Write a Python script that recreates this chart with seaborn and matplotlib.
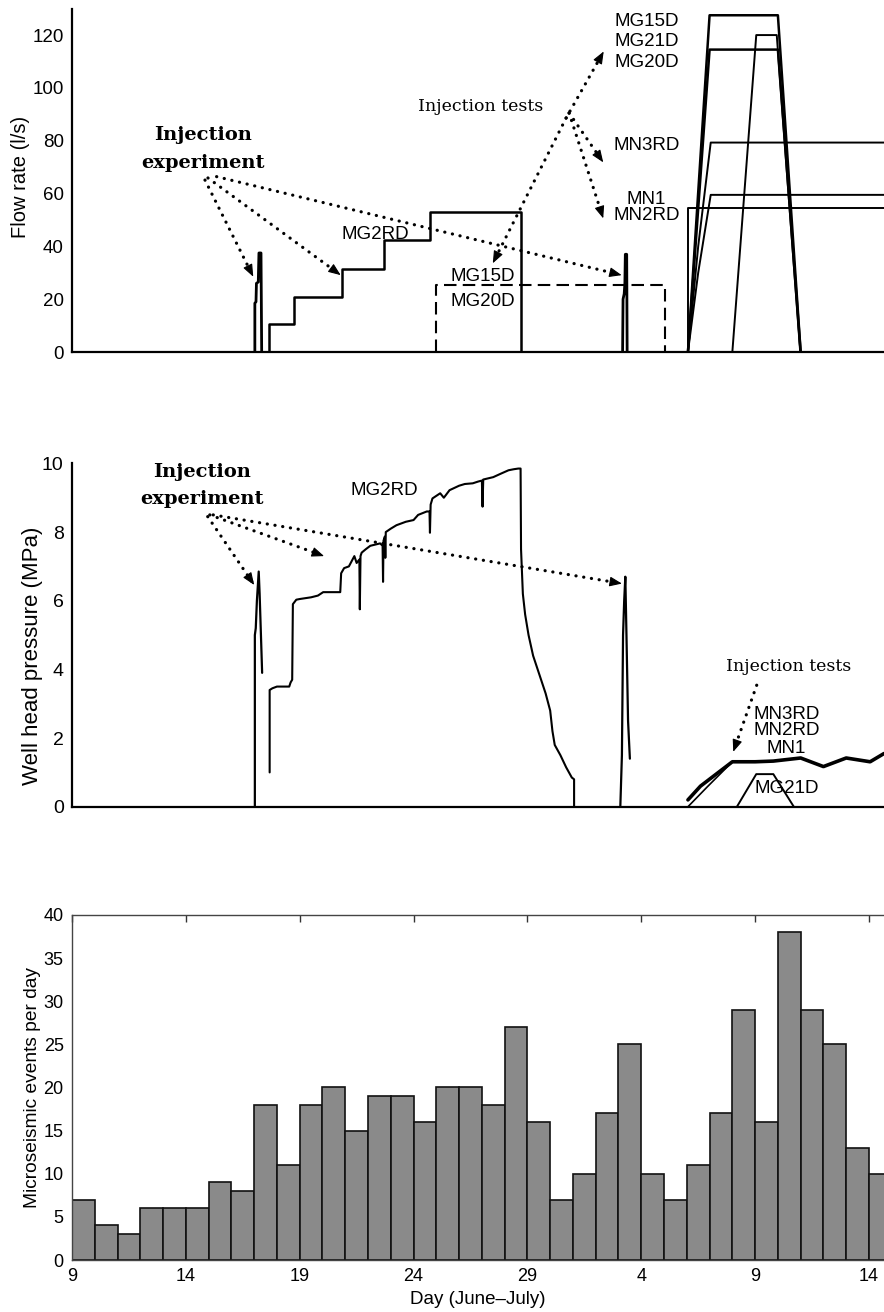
import numpy as np
import pandas as pd
import matplotlib
matplotlib.use("Agg")
import matplotlib.pyplot as plt
import seaborn as sns

# ---------------- data (day index: 0 = 9 June) ----------------
tick_days = [0, 5, 10, 15, 20, 25, 30, 35]
tick_labels = ["9", "14", "19", "24", "29", "4", "9", "14"]

# Flow rate (l/s)
mg2rd_spike1_day = [8.03, 8.03, 8.08, 8.10, 8.18, 8.21, 8.30, 8.33]
mg2rd_spike1_flow = [0, 18.5, 19, 26, 26.5, 37.5, 37.5, 0]
mg2rd_steps_day = [8.67, 8.67, 9.75, 9.75, 11.86, 11.86, 13.72, 13.72, 15.72, 15.72, 19.72, 19.72]
mg2rd_steps_flow = [0, 10.5, 10.5, 21, 21, 31.5, 31.5, 42.5, 42.5, 53, 53, 0]
mg2rd_spike2_day = [24.18, 24.20, 24.25, 24.28, 24.30, 24.36, 24.38]
mg2rd_spike2_flow = [0, 20, 22, 26, 37, 37, 0]
mg15d20d_day = [16.0, 16.0, 26.05, 26.05]
mg15d20d_flow = [0, 25.5, 25.5, 0]
mg15d_day = [27.05, 28.0, 31.0, 32.0]
mg15d_flow = [0, 127.5, 127.5, 0]
mg20d_day = [27.05, 28.0, 31.0, 32.0]
mg20d_flow = [0, 114.5, 114.5, 0]
mg21d_day = [29.0, 30.05, 30.95, 31.98]
mg21d_flow = [0, 120, 120, 0]
mn3rd_day = [27.05, 27.5, 28.05, 35.66]
mn3rd_flow = [0, 40, 79.3, 79.3]
mn1_day = [27.05, 27.5, 28.05, 35.66]
mn1_flow = [0, 30, 59.5, 59.5]
mn2rd_day = [27.05, 27.05, 35.66]
mn2rd_flow = [0, 54.5, 54.5]

# Well head pressure (MPa)
p_spike1_day = [8.03, 8.03, 8.07, 8.12, 8.20, 8.24, 8.35]
p_spike1_mpa = [0, 5.0, 5.2, 6.0, 6.85, 6.2, 3.9]
p_main_day = [8.68, 8.68, 8.8, 9.0, 9.54, 9.6, 9.67, 9.7, 9.85, 10.0, 10.5, 10.8, 11.03, 11.78,
              11.82, 11.95, 12.16, 12.4, 12.5, 12.62, 12.64, 12.67, 12.72, 12.9, 13.1, 13.53,
              13.64, 13.66, 13.68, 13.74, 13.76, 13.78, 14.0, 14.25, 14.66, 15.0, 15.2, 15.58,
              15.7, 15.72, 15.75, 15.83, 16.17, 16.33, 16.58, 17.0, 17.25, 17.6, 17.83, 18.0,
              18.03, 18.06, 18.5, 18.83, 19.17, 19.4, 19.6, 19.7,
              19.72, 19.8, 19.9, 20.05, 20.25, 20.55, 20.8, 21.0, 21.1, 21.2, 21.45, 21.7,
              21.95, 22.05, 22.05]
p_main_mpa = [1.0, 3.4, 3.45, 3.5, 3.5, 3.62, 3.7, 5.9, 6.03, 6.05, 6.1, 6.15, 6.25, 6.25,
              6.8, 6.95, 7.0, 7.3, 7.1, 7.2, 5.75, 7.3, 7.4, 7.5, 7.6, 7.67,
              7.6, 6.55, 7.75, 7.87, 7.25, 8.0, 8.1, 8.2, 8.3, 8.35, 8.5, 8.6,
              8.6, 7.98, 8.8, 8.98, 9.13, 9.0, 9.22, 9.35, 9.4, 9.42, 9.47, 9.5,
              8.74, 9.53, 9.6, 9.7, 9.8, 9.83, 9.85, 9.85,
              7.5, 6.2, 5.6, 5.0, 4.4, 3.8, 3.3, 2.8, 2.2, 1.8, 1.5, 1.15,
              0.85, 0.8, 0]
p_spike2_day = [24.08, 24.15, 24.2, 24.25, 24.3, 24.35, 24.42, 24.5]
p_spike2_mpa = [0, 1.5, 5.0, 6.0, 6.7, 5.0, 2.5, 1.4]
p_mn_day = [27.05, 27.6, 29.0, 30.0, 30.8, 32.0, 33.0, 34.0, 35.05, 35.66]
p_mn_mpa = [0.2, 0.6, 1.31, 1.31, 1.33, 1.42, 1.17, 1.42, 1.31, 1.55]
p_mn_b_day = [27.05, 27.9, 29.0]
p_mn_b_mpa = [0.0, 0.58, 1.31]
p_mg21d_day = [29.2, 30.05, 30.8, 31.7]
p_mg21d_mpa = [0, 0.95, 0.95, 0]

# Microseismic events per day
event_day = list(range(36))
events_per_day = [7, 4, 3, 6, 6, 6, 9, 8, 18, 11, 18, 20, 15, 19, 19, 16, 20, 20, 18, 27,
                  16, 7, 10, 17, 25, 10, 7, 11, 17, 29, 16, 38, 29, 25, 13, 10]

# ---------------- style ----------------
sns.set_style("white")
plt.rcParams["font.family"] = ["Liberation Sans", "DejaVu Sans"]
plt.rcParams["axes.linewidth"] = 1.6
plt.rcParams["text.color"] = "black"
plt.rcParams["axes.labelcolor"] = "black"
plt.rcParams["axes.edgecolor"] = "black"
plt.rcParams["xtick.color"] = "black"
plt.rcParams["ytick.color"] = "black"

SERIF = ["DejaVu Serif"]
XMAX = 35.66

fig = plt.figure(figsize=(8.84, 13.12), dpi=100)
ax1 = fig.add_axes([0.08145, 0.7317, 0.91855, 0.2617])
ax2 = fig.add_axes([0.08145, 0.3851, 0.91855, 0.2617])
ax3 = fig.add_axes([0.08145, 0.03963, 0.91855, 0.263])


def draw(ax, days, vals, lw=1.5, ls="-"):
    df = pd.DataFrame({"day": days, "val": vals})
    sns.lineplot(data=df, x="day", y="val", ax=ax, sort=False, estimator=None,
                 color="black", linewidth=lw, linestyle=ls, legend=False)


def arrow(ax, start, end):
    # dotted shaft
    ax.annotate("", xy=end, xytext=start,
                arrowprops=dict(arrowstyle="-", linestyle=(0, (0.05, 2.4)), lw=2.3,
                                color="black", capstyle="round",
                                shrinkA=0, shrinkB=3))
    # small solid head
    t = ax.transData
    p0 = np.array(t.transform(start))
    p1 = np.array(t.transform(end))
    d = (p1 - p0) / np.hypot(*(p1 - p0))
    back = t.inverted().transform(p1 - d * 9)
    ax.annotate("", xy=end, xytext=tuple(back),
                arrowprops=dict(arrowstyle="-|>,head_length=0.75,head_width=0.3",
                                lw=0.8, color="black", shrinkA=0, shrinkB=0,
                                mutation_scale=10))


# ---------------- top panel: flow rate ----------------
draw(ax1, mg2rd_spike1_day, mg2rd_spike1_flow, lw=2.0)
draw(ax1, mg2rd_steps_day, mg2rd_steps_flow, lw=1.8)
draw(ax1, mg2rd_spike2_day, mg2rd_spike2_flow, lw=2.0)
draw(ax1, mg15d20d_day, mg15d20d_flow, lw=1.5, ls=(0, (6, 3)))
draw(ax1, mg15d_day, mg15d_flow, lw=1.8)
draw(ax1, mg20d_day, mg20d_flow, lw=1.8)
draw(ax1, mg21d_day, mg21d_flow, lw=1.4)
draw(ax1, mn3rd_day, mn3rd_flow, lw=1.4)
draw(ax1, mn1_day, mn1_flow, lw=1.4)
draw(ax1, mn2rd_day, mn2rd_flow, lw=1.4)

ax1.set_xlim(0, XMAX)
ax1.set_ylim(0, 130)
ax1.set_yticks([0, 20, 40, 60, 80, 100, 120])
ax1.set_xticks(tick_days)
ax1.set_xticklabels([])
ax1.tick_params(axis="y", direction="out", length=5, width=1.5, labelsize=13.5, pad=1)
ax1.tick_params(axis="x", direction="in", length=5, width=1.5)
ax1.set_xlabel("")
ax1.set_ylabel("Flow rate (l/s)", fontsize=14.5)
ax1.yaxis.set_label_coords(-0.052, 0.51)
for s in ["top", "right"]:
    ax1.spines[s].set_visible(False)

ax1.text(5.75, 82.0, "Injection", family=SERIF, weight="bold", fontsize=14, ha="center", va="center")
ax1.text(5.75, 71.5, "experiment", family=SERIF, weight="bold", fontsize=14, ha="center", va="center")
arrow(ax1, (5.84, 65.1), (7.96, 28.5))
arrow(ax1, (5.97, 65.9), (11.8, 29.1))
arrow(ax1, (6.35, 66.4), (24.14, 29.1))

ax1.text(17.95, 93.1, "Injection tests", family=SERIF, fontsize=12.5, ha="center", va="center")
arrow(ax1, (21.7, 88.6), (23.35, 113.8))
arrow(ax1, (21.83, 90.5), (23.33, 71.8))
arrow(ax1, (21.83, 90.5), (23.33, 50.6))
arrow(ax1, (21.7, 88.6), (18.48, 33.6))

lbl = dict(fontsize=13.5, ha="center", va="center")
ax1.text(25.24, 125.1, "MG15D", **lbl)
ax1.text(25.24, 117.5, "MG21D", **lbl)
ax1.text(25.24, 109.5, "MG20D", **lbl)
ax1.text(25.22, 78.1, "MN3RD", **lbl)
ax1.text(25.22, 57.9, "MN1", **lbl)
ax1.text(25.22, 51.6, "MN2RD", **lbl)
ax1.text(18.02, 28.5, "MG15D", **lbl)
ax1.text(18.02, 19.0, "MG20D", **lbl)
ax1.text(13.34, 44.5, "MG2RD", **lbl)

# ---------------- middle panel: well head pressure ----------------
draw(ax2, p_spike1_day, p_spike1_mpa, lw=1.6)
draw(ax2, p_main_day, p_main_mpa, lw=1.5)
draw(ax2, p_spike2_day, p_spike2_mpa, lw=1.6)
draw(ax2, p_mn_day, p_mn_mpa, lw=2.6)
draw(ax2, p_mn_b_day, p_mn_b_mpa, lw=1.2)
draw(ax2, p_mg21d_day, p_mg21d_mpa, lw=1.4)

ax2.set_xlim(0, XMAX)
ax2.set_ylim(0, 10)
ax2.set_yticks([0, 2, 4, 6, 8, 10])
ax2.set_xticks(tick_days)
ax2.set_xticklabels([])
ax2.tick_params(axis="y", direction="in", length=5, width=1.5, labelsize=14, pad=6)
ax2.tick_params(axis="x", direction="in", length=5, width=1.5)
ax2.set_xlabel("")
ax2.set_ylabel("Well head pressure (MPa)", fontsize=16)
ax2.yaxis.set_label_coords(-0.036, 0.44)
for s in ["top", "right"]:
    ax2.spines[s].set_visible(False)

ax2.text(5.71, 9.75, "Injection", family=SERIF, weight="bold", fontsize=14, ha="center", va="center")
ax2.text(5.71, 8.95, "experiment", family=SERIF, weight="bold", fontsize=14, ha="center", va="center")
arrow(ax2, (5.96, 8.45), (8.0, 6.46))
arrow(ax2, (6.05, 8.5), (11.07, 7.3))
arrow(ax2, (6.2, 8.5), (24.15, 6.5))
ax2.text(13.7, 9.2, "MG2RD", **lbl)

ax2.text(31.46, 4.08, "Injection tests", family=SERIF, fontsize=12.5, ha="center", va="center")
arrow(ax2, (30.07, 3.54), (29.04, 1.6))
ax2.text(31.38, 2.7, "MN3RD", **lbl)
ax2.text(31.38, 2.21, "MN2RD", **lbl)
ax2.text(31.38, 1.7, "MN1", **lbl)
ax2.text(31.38, 0.54, "MG21D", **lbl)

# ---------------- bottom panel: microseismic events ----------------
ev = pd.DataFrame({"day": [d + 0.5 for d in event_day], "count": events_per_day})
sns.histplot(data=ev, x="day", weights="count", binwidth=1, binrange=(0, 36), ax=ax3,
             color="#8a8a8a", edgecolor="#111111", linewidth=1.2, alpha=1.0)
ax3.set_xlim(0, XMAX)
ax3.set_ylim(0, 40)
ax3.set_yticks([0, 5, 10, 15, 20, 25, 30, 35, 40])
ax3.set_xticks(tick_days)
ax3.set_xticklabels(tick_labels)
ax3.tick_params(axis="both", direction="in", length=5, width=1.0, labelsize=13, pad=6,
                top=True, colors="#333333", labelcolor="black")
ax3.set_xlabel("Day (June\u2013July)", fontsize=13.5, labelpad=4)
ax3.set_ylabel("Microseismic events per day", fontsize=13.8)
ax3.yaxis.set_label_coords(-0.038, 0.5)
for s in ["top", "left", "bottom"]:
    ax3.spines[s].set_linewidth(1.0)
    ax3.spines[s].set_color("#444444")
ax3.spines["right"].set_visible(False)

fig.savefig("out.png", dpi=100, facecolor="white")
